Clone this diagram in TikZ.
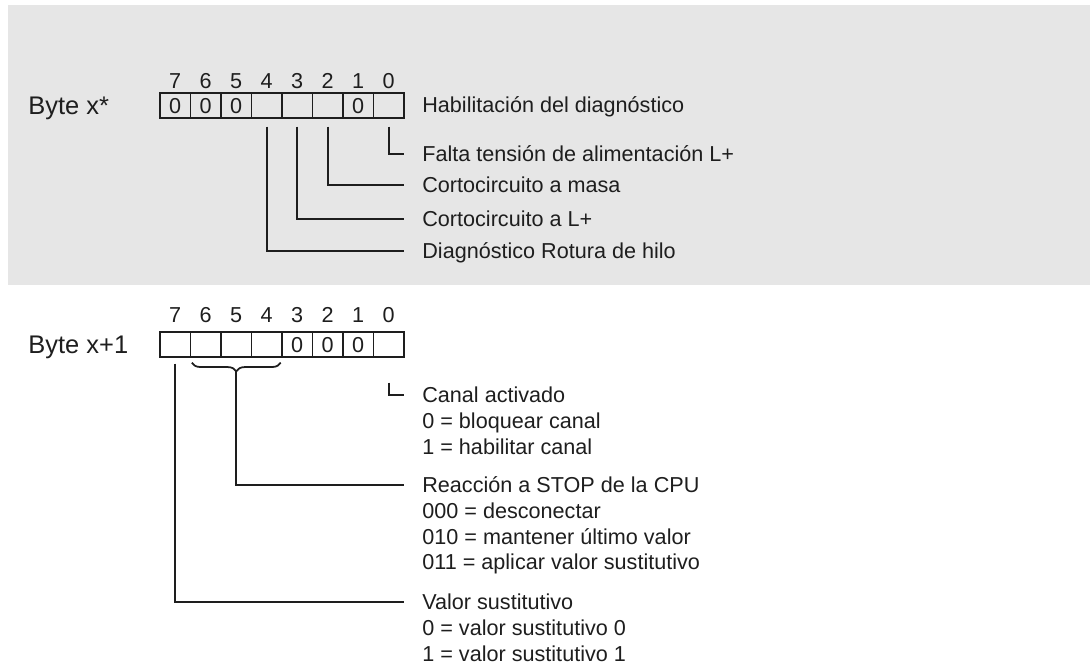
\documentclass[tikz,border=0pt]{standalone}
\usepackage{fontspec}
\setmainfont{Liberation Sans}
\usetikzlibrary{decorations.pathreplacing}
\definecolor{panel}{HTML}{E6E6E6}
\definecolor{ink}{HTML}{1E1E1E}

\begin{document}
\begin{tikzpicture}[x=0.02cm, y=-0.02cm, color=ink,
    cell/.style={draw, line width=0.75pt, minimum width=0.61cm, minimum height=0.5cm,
      inner sep=0pt, font=\fontsize{12.3}{14}\selectfont, text height=8.8pt, text depth=0pt},
    bitno/.style={inner sep=0pt, font=\fontsize{12.3}{14}\selectfont, text height=8.8pt, text depth=0pt},
    bytelbl/.style={anchor=west, inner sep=0pt, font=\fontsize{14.5}{17}\selectfont,
      text height=10.4pt, text depth=0pt},
    lbl/.style={anchor=west, inner xsep=0.36cm, inner ysep=0pt, font=\fontsize{12.3}{14.7}\selectfont,
      text height=8.8pt, text depth=0pt},
    lead/.style={draw, line width=1pt},
    brc/.style={lead, decorate, decoration={brace, mirror, amplitude=5pt}}]
    \useasboundingbox (0,0) rectangle (1090,669);
    \fill[panel] (8,5) rectangle (1090,285);

    % Byte x*
    \node[bytelbl] (bytex) at (28,105) {Byte x*};
    \foreach \b/\v in {7/0,6/0,5/0,4/,3/,2/,1/0,0/} {
        \node[cell] (xa\b) at ({175.25+30.5*(7-\b)},105.5) {\v};
        \node[bitno] (xn\b) at ({175.25+30.5*(7-\b)},81) {\b};
    }
    \node[lbl] (habil) at (404,105) {Habilitación del diagnóstico};
    \node[lbl] (falta) at (404,154) {Falta tensión de alimentación L+};
    \node[lbl] (masa) at (404,185) {Cortocircuito a masa};
    \node[lbl] (cortl) at (404,219) {Cortocircuito a L+};
    \node[lbl] (rotura) at (404,251) {Diagnóstico Rotura de hilo};
    \draw[lead] ([yshift=-0.16cm]xa0.south) |- (falta.west);
    \draw[lead] ([yshift=-0.16cm]xa2.south) |- (masa.west);
    \draw[lead] ([yshift=-0.16cm]xa3.south) |- (cortl.west);
    \draw[lead] ([yshift=-0.16cm]xa4.south) |- (rotura.west);

    % Byte x+1
    \node[bytelbl] (bytey) at (28,344) {Byte x+1};
    \foreach \b/\v in {7/,6/,5/,4/,3/0,2/0,1/0,0/} {
        \node[cell] (yb\b) at ({175.25+30.5*(7-\b)},344.5) {\v};
        \node[bitno] (yn\b) at ({175.25+30.5*(7-\b)},315) {\b};
    }
    \node[lbl] (canal) at (404,395) {Canal activado};
    \node[lbl] (canal0) at (404,421) {0 = bloquear canal};
    \node[lbl] (canal1) at (404,447) {1 = habilitar canal};
    \node[lbl] (reac) at (404,485) {Reacción a STOP de la CPU};
    \node[lbl] (reac0) at (404,511) {000 = desconectar};
    \node[lbl] (reac2) at (404,537) {010 = mantener último valor};
    \node[lbl] (reac3) at (404,562) {011 = aplicar valor sustitutivo};
    \node[lbl] (subst) at (404,602) {Valor sustitutivo};
    \node[lbl] (subst0) at (404,628) {0 = valor sustitutivo 0};
    \node[lbl] (subst1) at (404,654) {1 = valor sustitutivo 1};

    \draw[brc] ([xshift=0.04cm, yshift=-0.1cm]yb6.south west) -- ([xshift=-0.04cm, yshift=-0.1cm]yb4.south east);
    \coordinate (tip) at ([yshift=-0.1cm-5pt]yb5.south);
    \draw[lead] ([yshift=-0.5cm]yb0.south) |- (canal.west);
    \draw[lead] (tip) |- (reac.west);
    \draw[lead] ([yshift=-0.12cm]yb7.south) |- (subst.west);
\end{tikzpicture}
\end{document}
